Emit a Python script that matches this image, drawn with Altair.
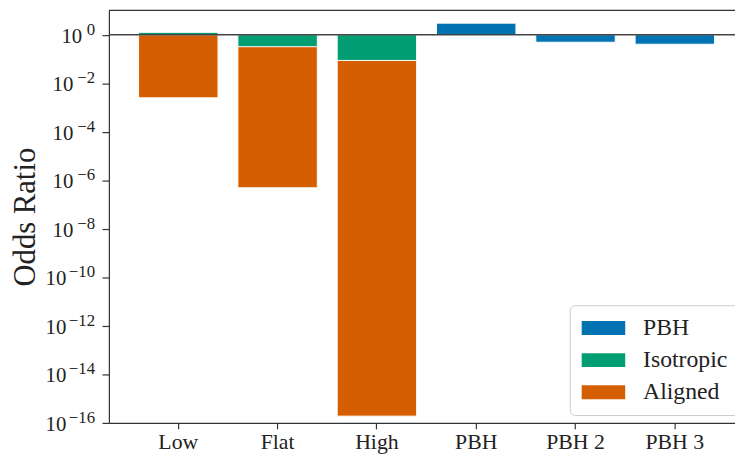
import altair as alt
import pandas as pd

categories = ["Low", "Flat", "High", "PBH", "PBH 2", "PBH 3"]
aligned = [2.5e-3, 4.9e-7, 1.9e-16, None, None, None]
isotropic = [1.25, 0.32, 0.087, None, None, None]
pbh = [None, None, None, 3.0, 0.49, 0.405]
series_names = ["PBH", "Isotropic", "Aligned"]
series_colors = ["#0173b2", "#029e73", "#d55e00"]
tick_exponents = [0, -2, -4, -6, -8, -10, -12, -14, -16]

tick_values = [10.0 ** e for e in tick_exponents]
exp_labels = [str(e).replace("-", "\u2212") for e in tick_exponents]
exp_len = [len(s) for s in exp_labels]

rows = []
# draw order: Aligned first, then Isotropic on top, then PBH
for name, vals in [("Aligned", aligned), ("Isotropic", isotropic), ("PBH", pbh)]:
    for c, v in zip(categories, vals):
        if v is not None:
            rows.append({"category": c, "series": name, "value": v, "base": 1.0, "o": len(rows)})
df = pd.DataFrame(rows)
ticks_df = pd.DataFrame({"v": tick_values, "e": exp_labels, "n": exp_len, "b": ["10"] * len(tick_values)})

FONT = "Liberation Serif"
W, H = 633, 417
TXT = "#222222"

xscale = alt.Scale(domain=categories, paddingInner=0.2, paddingOuter=0.2525, align=0.592)
yscale = alt.Scale(type="log", domain=[1e-16, 10])

bars = alt.Chart(df).mark_bar(stroke="white", strokeWidth=1).encode(
    x=alt.X("category:N", scale=xscale, sort=categories,
            axis=alt.Axis(title=None, labelAngle=0, labelFont=FONT, labelFontSize=22,
                          labelColor=TXT, tickSize=6, tickColor="#333", domainColor="#333",
                          domainWidth=1.2, tickWidth=1.2, labelPadding=3)),
    y=alt.Y("value:Q", scale=yscale,
            axis=alt.Axis(title="Odds Ratio", values=tick_values, labels=False,
                          grid=False,
                          titleFont=FONT, titleFontSize=31, titleFontWeight="normal",
                          titleColor=TXT, titlePadding=61, tickSize=7, tickColor="#333",
                          domainColor="#333", domainWidth=1.2, tickWidth=1.2)),
    y2="base:Q",
    order=alt.Order("o:Q"),
    color=alt.Color("series:N", scale=alt.Scale(domain=series_names, range=series_colors),
                    legend=alt.Legend(
                        title=None, orient="none", legendX=466, legendY=298,
                        padding=11, strokeColor="#cccccc", fillColor="white", cornerRadius=5,
                        symbolType="M-1,-0.64L3,-0.64L3,0.64L-1,0.64Z", symbolSize=484,
                        symbolStrokeWidth=0, labelFont=FONT, labelFontSize=24,
                        labelColor=TXT, rowPadding=8.5, labelOffset=39)),
)

# tick labels: base "10" (placed left of the exponent, depending on its length) + exponent
base_layers = []
for n, xoff in [(1, -27), (2, -36), (3, -43)]:
    base_layers.append(
        alt.Chart(ticks_df).transform_filter(alt.datum.n == n).mark_text(
            align="right", baseline="middle", font=FONT, fontSize=21, color=TXT, dy=2
        ).encode(
            y=alt.Y("v:Q", scale=yscale),
            x=alt.value(xoff),
            text="b:N",
        )
    )

exps = alt.Chart(ticks_df).mark_text(
    align="right", baseline="alphabetic", font=FONT, fontSize=17, color=TXT, dy=0
).encode(
    y=alt.Y("v:Q", scale=yscale),
    x=alt.value(-14),
    text="e:N",
)

hline = alt.Chart(pd.DataFrame({"v": [1.0]})).mark_rule(color="#444", strokeWidth=1.5).encode(
    y=alt.Y("v:Q", scale=yscale),
    x=alt.value(0), x2=alt.value(W),
)

topline = alt.Chart(pd.DataFrame({"v": [10.0]})).mark_rule(color="#333", strokeWidth=1.2).encode(
    y=alt.Y("v:Q", scale=yscale),
    x=alt.value(0), x2=alt.value(W),
)

chart = alt.layer(bars, hline, topline, exps, *base_layers).properties(
    width=W, height=H,
    autosize=alt.AutoSizeParams(type="none"),
    padding={"left": 102, "top": 0, "right": 0, "bottom": 32},
).configure_view(stroke=None)

chart.save("out.html", embed_options={"renderer": "svg", "actions": False})
